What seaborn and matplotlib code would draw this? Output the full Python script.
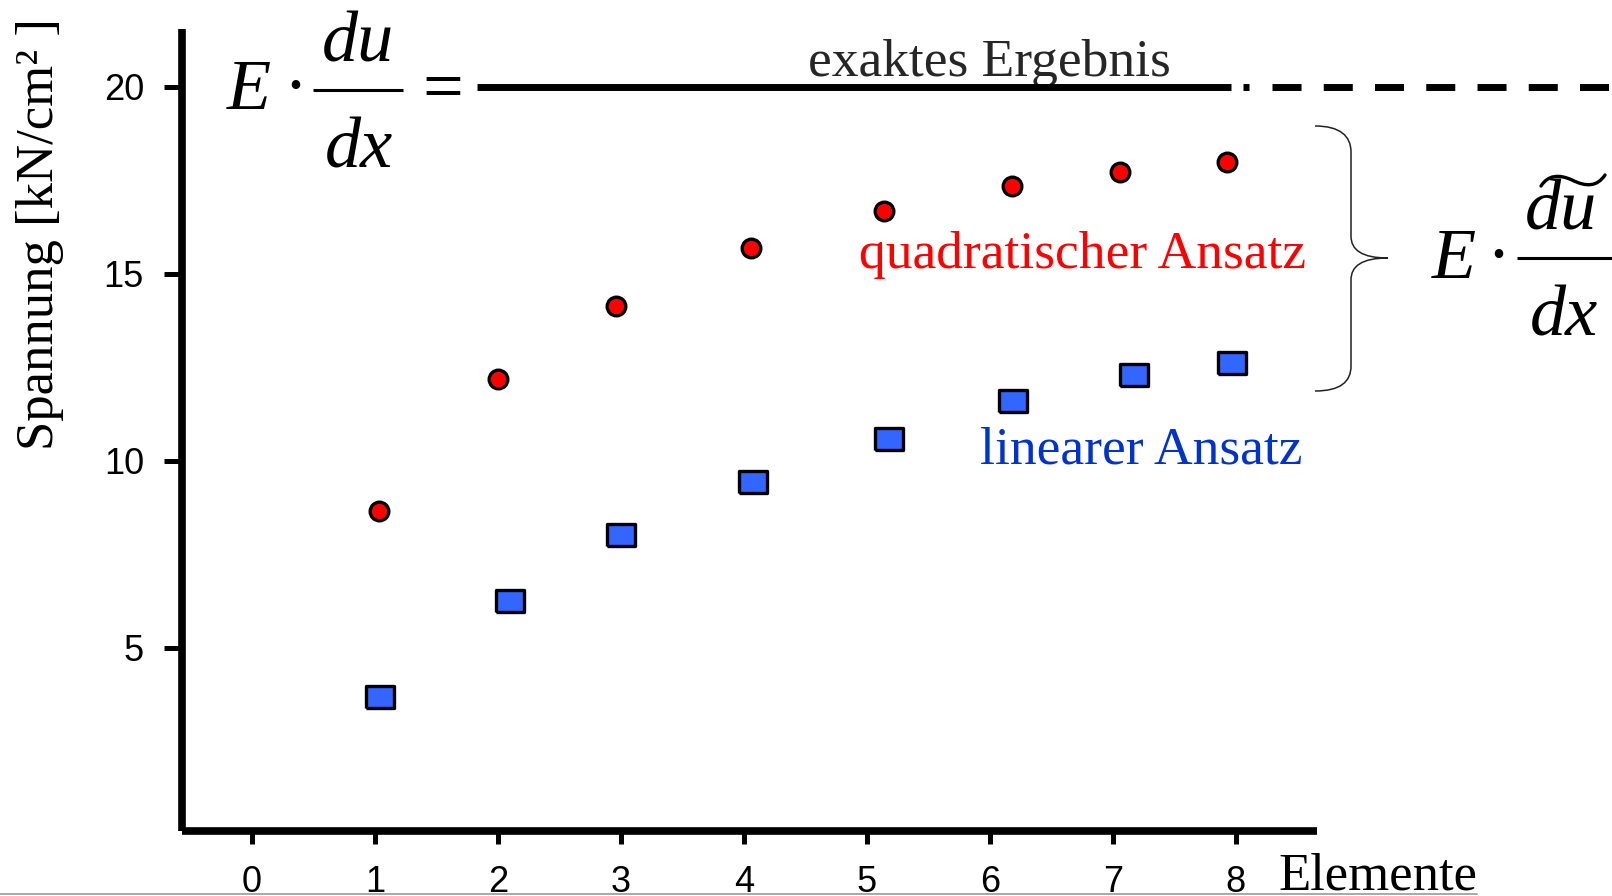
import matplotlib
matplotlib.use("Agg")
import matplotlib.pyplot as plt
from matplotlib import font_manager
from matplotlib.markers import MarkerStyle
from matplotlib.path import Path
from matplotlib.patches import PathPatch
from matplotlib.lines import Line2D
import seaborn as sns

# Number of elements (as placed in the diagram) and resulting stresses [kN/cm²]
quad_elements = [1.03, 2.00, 2.96, 4.06, 5.14, 6.18, 7.06, 7.93]
quad_stress = [8.66, 12.18, 14.13, 15.69, 16.68, 17.34, 17.73, 18.00]
lin_elements = [1.04, 2.10, 3.00, 4.07, 5.18, 6.19, 7.17, 7.97]
lin_stress = [3.68, 6.24, 8.02, 9.43, 10.58, 11.60, 12.29, 12.62]
exact_stress = 20.0

x_ticks = [0, 1, 2, 3, 4, 5, 6, 7, 8]
y_ticks = [5, 10, 15, 20]

sns.set_theme(style="white")
plt.rcParams["font.family"] = ["Liberation Sans", "DejaVu Sans"]
plt.rcParams["lines.scale_dashes"] = False

serif = ["Liberation Serif", "DejaVu Serif"]


def has_font(name):
    try:
        font_manager.findfont(name, fallback_to_default=False)
        return True
    except Exception:
        return False


narrow = "Liberation Sans Narrow" if has_font("Liberation Sans Narrow") else "Liberation Sans"
xtick_size = 34 if narrow == "Liberation Sans Narrow" else 26

W, H = 1612, 896
fig = plt.figure(figsize=(W / 100, H / 100), dpi=100)
fig.patch.set_facecolor("white")

# annotation layer in pixel units (y downwards)
ov = fig.add_axes([0, 0, 1, 1])
ov.set_xlim(0, W)
ov.set_ylim(H, 0)
ov.axis("off")
ov.set_zorder(0)

ax = fig.add_axes([182 / W, 65 / H, 1135 / W, 802.2 / H])
ax.set_zorder(1)
ax.patch.set_alpha(0)

# rectangular marker for the linear elements
rect = MarkerStyle([(-0.5, -0.41), (0.5, -0.41), (0.5, 0.41), (-0.5, 0.41), (-0.5, -0.41)])

sns.scatterplot(x=quad_elements, y=quad_stress, ax=ax, marker="o", s=180,
                color="#ff0000", edgecolor="black", linewidth=2.4, zorder=3, clip_on=False)
sns.scatterplot(x=lin_elements, y=lin_stress, ax=ax, marker=rect, s=396,
                color="#3366ff", edgecolor="black", linewidth=2.4, zorder=3, clip_on=False)

# exact solution: solid part, a dot, then dashed continuation
ax.plot([1.83, 7.96], [exact_stress, exact_stress], color="black", lw=5,
        solid_capstyle="butt", clip_on=False, zorder=2)
ax.plot([8.06, 8.11], [exact_stress, exact_stress], color="black", lw=5,
        solid_capstyle="butt", clip_on=False, zorder=2)
ax.plot([8.29, 11.6], [exact_stress, exact_stress], color="black", lw=5,
        linestyle=(0, (20.9, 16.0)), dash_capstyle="butt", clip_on=False, zorder=2)

ax.set_xlim(-0.57, 8.66)
ax.set_ylim(0.1, 21.55)
ax.set_xticks(x_ticks)
ax.set_yticks(y_ticks)
ax.set_xticklabels([str(t) for t in x_ticks], fontfamily=[narrow, "Liberation Sans"],
                   fontsize=xtick_size)
ax.set_yticklabels([str(t) for t in y_ticks], fontsize=26)

sns.despine(ax=ax)
for side in ("left", "bottom"):
    ax.spines[side].set_linewidth(5.5)
    ax.spines[side].set_color("black")
    ax.spines[side].set_capstyle("butt")

ax.tick_params(axis="y", direction="out", length=13, width=3.6, pad=14.4,
               colors="black", left=True)
ax.tick_params(axis="x", direction="out", length=9.4, width=3.6, pad=15,
               colors="black", bottom=True)
ax.grid(False)

ax.set_ylabel("Spannung [kN/cm² ]", fontfamily=serif, fontsize=38, color="black")
ax.yaxis.label.set_rotation_mode("default")
ax.yaxis.label.set_va("center")
ax.yaxis.set_label_coords(-0.1251, 0.744)

ax.set_xlabel("Elemente", fontfamily=serif, fontsize=38, color="black")
ax.xaxis.label.set_ha("left")
ax.xaxis.label.set_va("baseline")
ax.xaxis.set_label_coords(0.9656, -0.0735)

# series labels
ov.text(808, 76, "exaktes Ergebnis", fontfamily=serif, fontsize=38.5, ha="left", va="baseline")
ov.text(1306, 268, "quadratischer Ansatz", fontfamily=serif, fontsize=38.5, color="#ff0000",
        ha="right", va="baseline")
ov.text(1303, 463, "linearer Ansatz", fontfamily=serif, fontsize=38.5, color="#0033cc",
        ha="right", va="baseline")

eq = dict(fontfamily=serif, fontsize=52, va="baseline", color="black")

# E * du/dx =
ov.text(227, 109, "E", style="italic", ha="left", **eq)
ov.text(295, 109, "·", ha="center", **eq)
ov.plot([313, 403], [90, 90], color="black", lw=2.2, solid_capstyle="butt")
ov.text(358, 62, "du", style="italic", ha="center", **eq)
ov.text(359, 167, "dx", style="italic", ha="center", **eq)
ov.text(443, 110, "=", ha="center", **eq)

# E * d(u~)/dx
ov.text(1432, 278, "E", style="italic", ha="left", **eq)
ov.text(1498, 278, "·", ha="center", **eq)
ov.plot([1517, 1625], [258, 258], color="black", lw=2.2, solid_capstyle="butt", clip_on=False)
ov.text(1525, 230, "du", style="italic", ha="left", **eq)
ov.text(1530, 335, "dx", style="italic", ha="left", **eq)
tilde = Path([(1541, 186), (1548, 175), (1559, 174), (1572, 180),
              (1586, 187), (1597, 187), (1605, 175)],
             [Path.MOVETO, Path.CURVE4, Path.CURVE4, Path.CURVE4,
              Path.CURVE4, Path.CURVE4, Path.CURVE4])
ov.add_patch(PathPatch(tilde, fill=False, lw=2.4, edgecolor="black", capstyle="round"))

# curly brace grouping the two approximations
brace = Path([(1315, 126), (1340, 126), (1351, 136), (1351, 152),
              (1351, 236),
              (1351, 250), (1362, 258), (1388, 258),
              (1362, 258), (1351, 266), (1351, 280),
              (1351, 366),
              (1351, 382), (1340, 391), (1315, 391)],
             [Path.MOVETO, Path.CURVE4, Path.CURVE4, Path.CURVE4,
              Path.LINETO,
              Path.CURVE4, Path.CURVE4, Path.CURVE4,
              Path.CURVE4, Path.CURVE4, Path.CURVE4,
              Path.LINETO,
              Path.CURVE4, Path.CURVE4, Path.CURVE4])
ov.add_patch(PathPatch(brace, fill=False, lw=1.1, edgecolor="#222222"))

# thin rule along the lower edge
fig.add_artist(Line2D([0, 1477 / W], [2 / H, 2 / H], transform=fig.transFigure,
                      color="#9a9a9a", lw=1.2))

fig.savefig("out.png", dpi=100)
